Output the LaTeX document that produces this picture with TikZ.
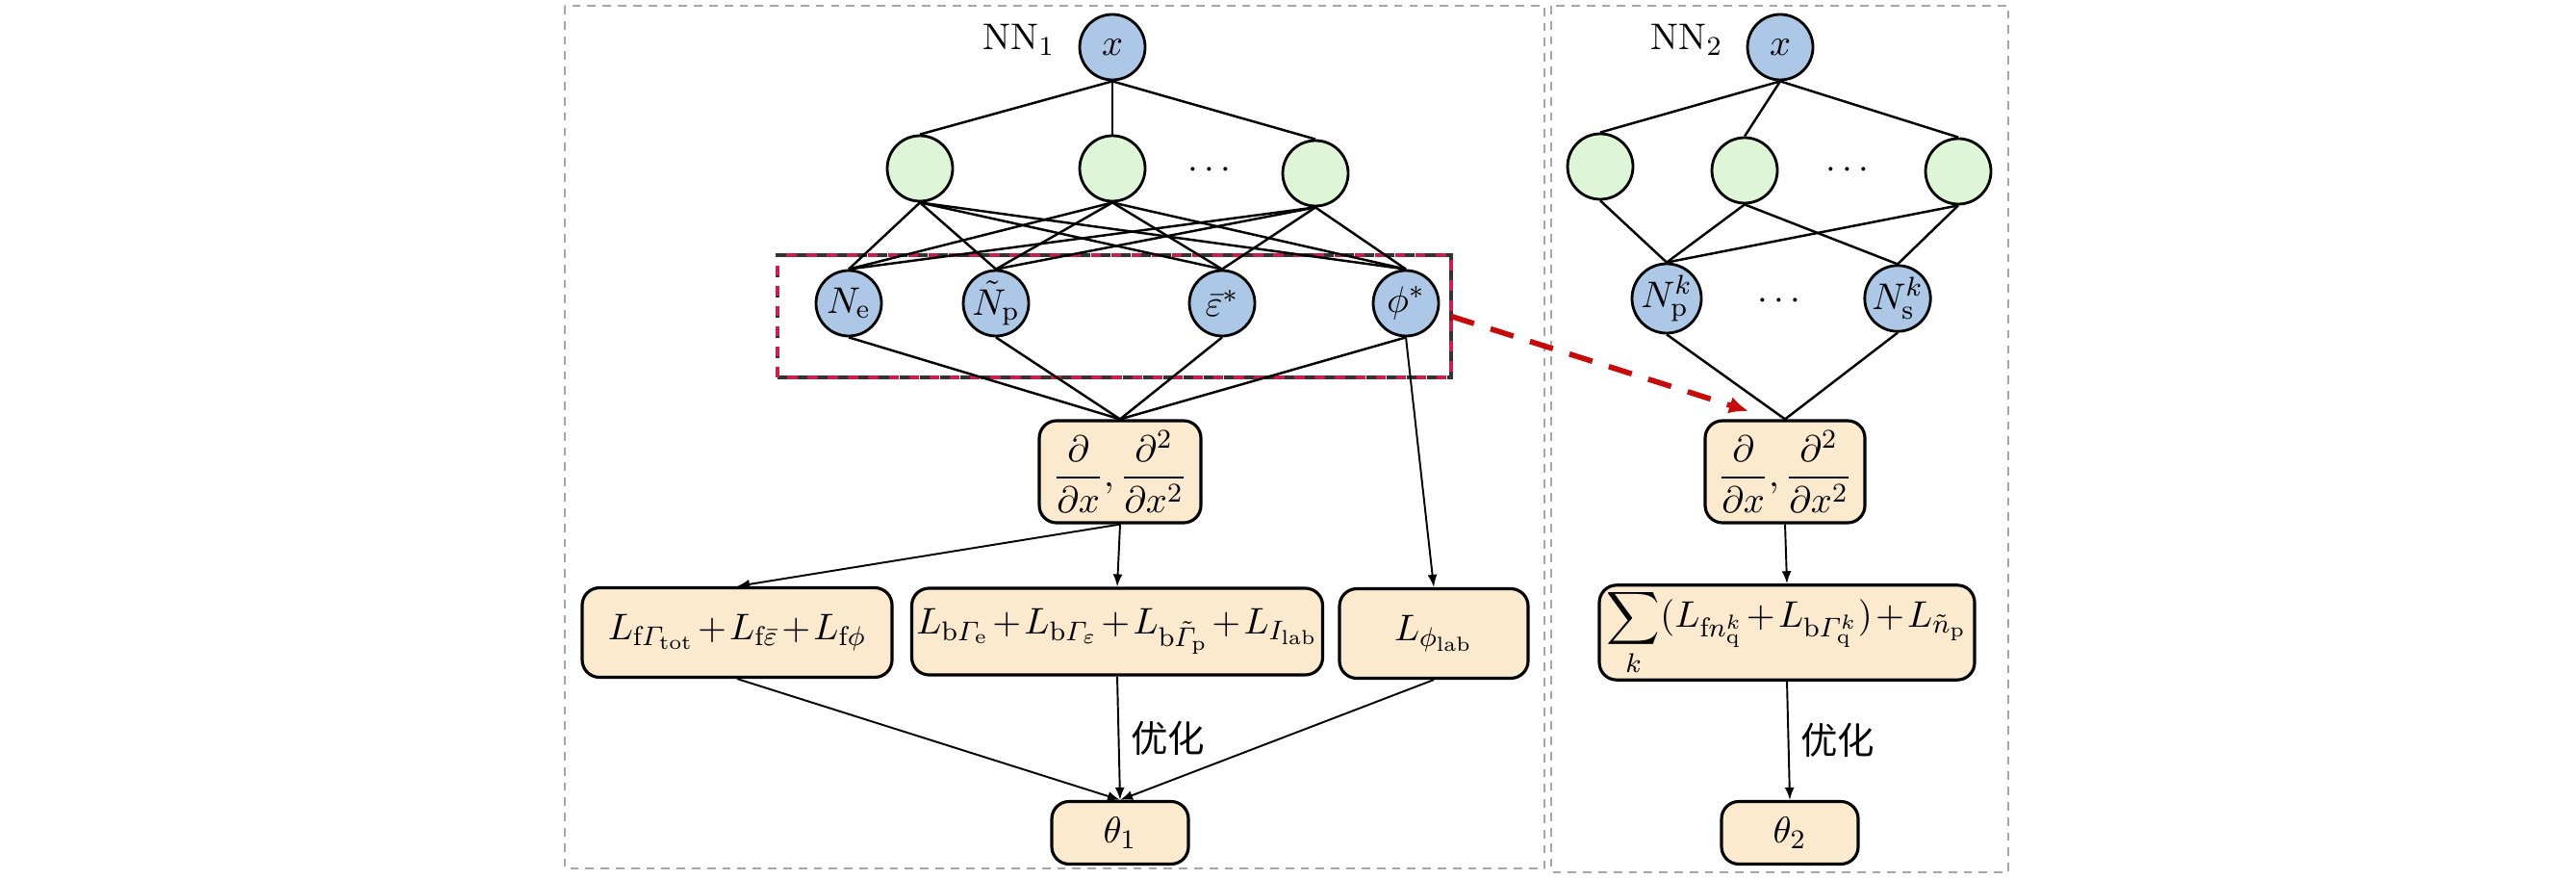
\documentclass[tikz,border=0pt]{standalone}
\usepackage[table]{xcolor}
\usepackage{tikz}
\usetikzlibrary{arrows.meta,calc,positioning}
\usepackage{amssymb}
\usepackage{amsmath}
\usepackage{fontspec}
\newfontfamily\cjk{Noto Sans CJK SC}
\definecolor{inblue}{RGB}{172,200,230}
\definecolor{hidgreen}{RGB}{222,246,215}
\definecolor{boxpeach}{RGB}{252,234,207}
\definecolor{selred}{RGB}{205,30,75}
\definecolor{arrred}{RGB}{200,10,10}

\begin{document}
\begin{tikzpicture}[font=\fontsize{10.95}{13.6}\selectfont,
  bluenode/.style={circle,draw=black,line width=0.8pt,fill=inblue,minimum size=0.68cm,inner sep=0pt},
  greennode/.style={circle,draw=black,line width=0.8pt,fill=hidgreen,minimum size=0.68cm,inner sep=0pt},
  lossbox/.style={draw=black,line width=0.9pt,fill=boxpeach,rounded corners=0.18cm,inner sep=1pt,
    execute at begin node={\medmuskip=1.5mu plus 1mu}},
  link/.style={black,line width=0.7pt},
  flow/.style={black,line width=0.55pt,-{Latex[length=1.3mm,width=1mm]}},
  netframe/.style={black!35,line width=0.5pt,dash pattern=on 2.5pt off 2pt}]
\useasboundingbox (0cm,0cm) rectangle (26.77cm,-9.13cm);
\draw[netframe] (5.87cm,-0.06cm) rectangle (16.05cm,-9.02cm);
\draw[netframe] (16.12cm,-0.06cm) rectangle (20.87cm,-9.06cm);

\node[draw=black!80,line width=0.9pt,dash pattern=on 3pt off 3pt,minimum width=7cm,minimum height=1.27cm,inner sep=0pt,outer sep=0pt] (sel) at (11.58cm,-3.285cm) {};
\draw[selred,line width=0.9pt,dash pattern=on 3pt off 3pt,dash phase=3pt] (sel.north west) rectangle (sel.south east);

\node[bluenode] (x1) at (11.56cm,-0.49cm) {$x$};
\node[left=0.12cm of x1,yshift=0.08cm] (nn1) {NN$_1$};
\node[greennode] (h11) at (9.56cm,-1.75cm) {};
\node[greennode] (h12) at (11.56cm,-1.75cm) {};
\node[greennode] (h13) at (13.67cm,-1.80cm) {};
\node (dots11) at (12.60cm,-1.77cm) {$\cdots$};
\node[bluenode] (ne) at (8.82cm,-3.15cm) {$N_{\mathrm{e}}$};
\node[bluenode] (np) at (10.35cm,-3.15cm) {$\tilde{N}_{\mathrm{p}}$};
\node[bluenode] (eb) at (12.70cm,-3.15cm) {$\bar{\varepsilon}^{*}$};
\node[bluenode] (ph) at (14.61cm,-3.15cm) {$\phi^{*}$};

\node[lossbox,minimum width=1.68cm,minimum height=1.06cm] (d1) at (11.64cm,-4.90cm) {$\dfrac{\partial}{\partial x},\dfrac{\partial^2}{\partial x^2}$};
\node[lossbox,minimum width=3.22cm,minimum height=0.93cm] (lf) at (7.66cm,-6.57cm) {$L_{\mathrm{f}\varGamma_{\mathrm{tot}}}+L_{\mathrm{f}\bar{\varepsilon}}+L_{\mathrm{f}\phi}$};
\node[lossbox,minimum width=4.27cm,minimum height=0.90cm] (lb) at (11.61cm,-6.56cm) {$L_{\mathrm{b}\varGamma_{\mathrm{e}}}+L_{\mathrm{b}\varGamma_{\varepsilon}}+L_{\mathrm{b}\tilde{\varGamma}_{\mathrm{p}}}+L_{I_{\mathrm{lab}}}$};
\node[lossbox,minimum width=1.96cm,minimum height=0.93cm] (lp) at (14.90cm,-6.58cm) {$L_{\phi_{\mathrm{lab}}}$};
\node[lossbox,minimum width=1.42cm,minimum height=0.65cm] (t1) at (11.64cm,-8.65cm) {$\theta_1$};

\draw[link] (x1.south) -- (h11.north);
\draw[link] (x1.south) -- (h12.north);
\draw[link] (x1.south) -- (h13.north);
\draw[link] (h11.south) -- (ne.north);
\draw[link] (h11.south) -- (np.north);
\draw[link] (h11.south) -- (eb.north);
\draw[link] (h11.south) -- (ph.north);
\draw[link] (h12.south) -- (ne.north);
\draw[link] (h12.south) -- (np.north);
\draw[link] (h12.south) -- (eb.north);
\draw[link] (h12.south) -- (ph.north);
\draw[link] (h13.south) -- (ne.north);
\draw[link] (h13.south) -- (np.north);
\draw[link] (h13.south) -- (eb.north);
\draw[link] (h13.south) -- (ph.north);
\draw[link] (ne.south) -- (d1.north);
\draw[link] (np.south) -- (d1.north);
\draw[link] (eb.south) -- (d1.north);
\draw[link] (ph.south) -- (d1.north);
\draw[flow] (d1.south) -- (lf.north);
\draw[flow] (d1.south) -- (lb.north);
\draw[flow] (ph.south) -- (lp.north);
\draw[flow] (lf.south) -- (t1.north);
\draw[flow] (lb.south) -- node[right] {\cjk 优化} (t1.north);
\draw[flow] (lp.south) -- (t1.north);

\node[bluenode] (x2) at (18.50cm,-0.49cm) {$x$};
\node[left=0.12cm of x2,yshift=0.08cm] (nn2) {NN$_2$};
\node[greennode] (h21) at (16.63cm,-1.73cm) {};
\node[greennode] (h22) at (18.13cm,-1.77cm) {};
\node[greennode] (h23) at (20.35cm,-1.78cm) {};
\node (dots21) at (19.23cm,-1.77cm) {$\cdots$};
\node[bluenode] (nk) at (17.32cm,-3.10cm) {$N_{\mathrm{p}}^{k}$};
\node[bluenode] (sk) at (19.72cm,-3.10cm) {$N_{\mathrm{s}}^{k}$};
\node (dots22) at (18.52cm,-3.13cm) {$\cdots$};

\node[lossbox,minimum width=1.66cm,minimum height=1.06cm] (d2) at (18.55cm,-4.90cm) {$\dfrac{\partial}{\partial x},\dfrac{\partial^2}{\partial x^2}$};
\node[lossbox,minimum width=3.90cm,minimum height=0.95cm] (ls) at (18.57cm,-6.57cm) {$\displaystyle\sum_{k}(L_{\mathrm{f}n_{\mathrm{q}}^{k}}+L_{\mathrm{b}\varGamma_{\mathrm{q}}^{k}})+L_{\tilde{n}_{\mathrm{p}}}$};
\node[lossbox,minimum width=1.42cm,minimum height=0.65cm] (t2) at (18.60cm,-8.65cm) {$\theta_2$};

\draw[link] (x2.south) -- (h21.north);
\draw[link] (x2.south) -- (h22.north);
\draw[link] (x2.south) -- (h23.north);
\draw[link] (h21.south) -- (nk.north);
\draw[link] (h22.south) -- (nk.north);
\draw[link] (h22.south) -- (sk.north);
\draw[link] (h23.south) -- (nk.north);
\draw[link] (h23.south) -- (sk.north);
\draw[link] (nk.south) -- (d2.north);
\draw[link] (sk.south) -- (d2.north);
\draw[flow] (d2.south) -- (ls.north);
\draw[flow] (ls.south) -- node[right] {\cjk 优化} (t2.north);

\coordinate (tgt) at (18.17cm,-4.27cm);
\draw[arrred,line width=1.6pt,dash pattern=on 0.25cm off 0.18cm,-{Latex[length=2mm,width=1.8mm]}] (sel.east) -- (tgt);
\end{tikzpicture}
\end{document}
